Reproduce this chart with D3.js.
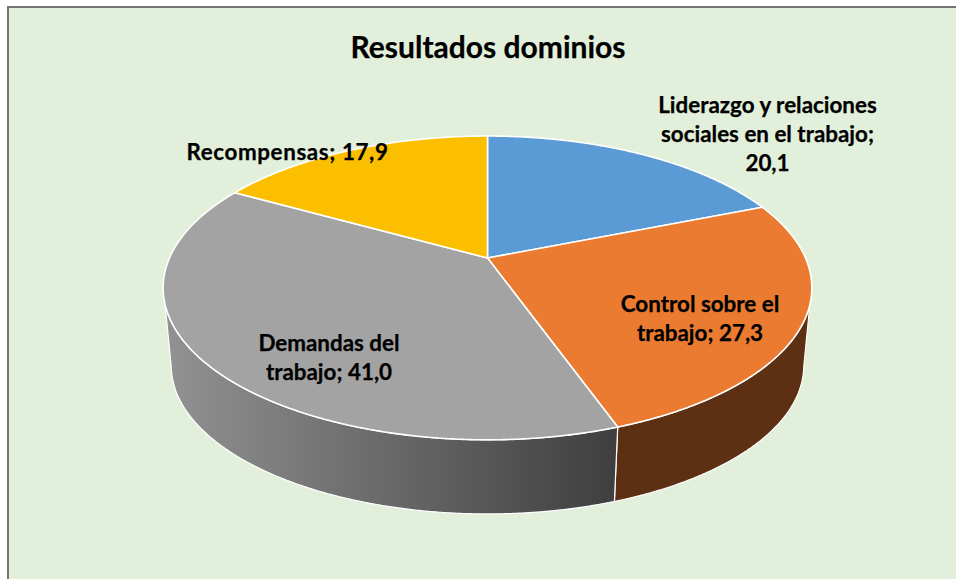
<!DOCTYPE html>
<html>
<head>
<meta charset="utf-8">
<script src="https://d3js.org/d3.v7.min.js"></script>
<style>
  html, body { margin: 0; padding: 0; background: #fff; }
  svg { display: block; }
  text { font-family: Lato, "Open Sans", sans-serif; font-weight: 700; fill: #000; stroke: #000; stroke-width: 0.25; text-anchor: middle; }
</style>
</head>
<body>
<svg id="chart" width="956" height="579"></svg>
<script>
// values, clockwise from 12 o'clock
const categories = ["Liderazgo y relaciones sociales en el trabajo", "Control sobre el trabajo", "Demandas del trabajo", "Recompensas"];
const values = [20.1, 27.3, 41.0, 17.9];
const colors = ["#5b9bd5", "#eb7b31", "#a3a3a3", "#fcbf00"];
const labelLines = [
  ["Liderazgo y relaciones", "sociales en el trabajo;", "20,1"],
  ["Control sobre el", "trabajo; 27,3"],
  ["Demandas del", "trabajo; 41,0"],
  ["Recompensas; 17,9"]
];
const labelAnchors = [[767.5, 113], [700, 312], [329, 351], [287.5, 160]];
const labelSpacing = [0, 0, 0, 0.6];

const width = 956, height = 579;
const svg = d3.select("#chart");

// perspective of the tilted disc
const persp = 0.197;
const sx = d3.scaleLinear().domain([-1, 1]);
const sy = d3.scaleLinear().domain([-1, 1]);
const topX = sx.copy().range([487.5 - 318, 487.5 + 318]);
const topY = sy.copy().range([258 - 146, 258 + 146]);
const botX = sx.copy().range([487.5 - 310, 487.5 + 310]);
const botY = sy.copy().range([336.6 - 142.4, 336.6 + 142.4]);

function project(a, X, Y) {
  const u = Math.sin(a), w = Math.cos(a), d = 1 + persp * w;
  return [X(u / d), Y(-w / d)];
}
function rim(a0, a1, X, Y) {
  const n = Math.max(2, Math.ceil(Math.abs(a1 - a0) / 0.005));
  return d3.range(n + 1).map(i => project(a0 + (a1 - a0) * i / n, X, Y));
}

const line = d3.line();
const arcs = d3.pie().sort(null)(values);
const rad = d3.scaleLinear().domain([0, 180]).range([0, Math.PI]);

const defs = svg.append("defs");
const grad = defs.append("linearGradient").attr("id", "wallGray")
  .attr("gradientUnits", "userSpaceOnUse")
  .attr("x1", 165).attr("x2", 614).attr("y1", 0).attr("y2", 0);
grad.append("stop").attr("offset", 0).attr("stop-color", "#929292");
grad.append("stop").attr("offset", 1).attr("stop-color", "#3f3f3f");

// panel
svg.append("rect").attr("x", 8).attr("y", 7).attr("width", width).attr("height", height)
  .attr("fill", "#e2efda").attr("stroke", "#757575").attr("stroke-width", 2);

// side wall, the rim turns away at a slightly different angle top and bottom
const walls = [
  { i: 1, fill: "#5d3014", top: [rad(107.6), arcs[1].endAngle], bot: [rad(102), arcs[1].endAngle] },
  { i: 2, fill: "url(#wallGray)", top: [arcs[2].startAngle, rad(252.4)], bot: [arcs[2].startAngle, rad(258)] }
];
svg.selectAll("path.wall").data(walls).join("path")
  .attr("class", "wall")
  .attr("d", d => line(rim(d.top[0], d.top[1], topX, topY)
    .concat(rim(d.bot[1], d.bot[0], botX, botY))) + "Z")
  .attr("fill", d => d.fill)
  .attr("stroke", "#fff").attr("stroke-width", 1.2).attr("stroke-linejoin", "round");

// top face
svg.selectAll("path.slice").data(arcs).join("path")
  .attr("class", "slice")
  .attr("d", d => line([[topX(0), topY(0)]].concat(rim(d.startAngle, d.endAngle, topX, topY))) + "Z")
  .attr("fill", (d, i) => colors[i])
  .attr("stroke", "#fff").attr("stroke-width", 1.6).attr("stroke-linejoin", "round");

// title and labels
svg.append("text").attr("x", 488).attr("y", 58).attr("font-size", 30).text("Resultados dominios");

svg.selectAll("text.label").data(categories).join("text")
  .attr("class", "label")
  .attr("font-size", 22.4)
  .attr("letter-spacing", (d, i) => labelSpacing[i])
  .each(function(d, i) {
    d3.select(this).selectAll("tspan").data(labelLines[i]).join("tspan")
      .attr("x", labelAnchors[i][0])
      .attr("y", (t, k) => labelAnchors[i][1] + k * 29)
      .text(t => t);
  });
</script>
</body>
</html>
